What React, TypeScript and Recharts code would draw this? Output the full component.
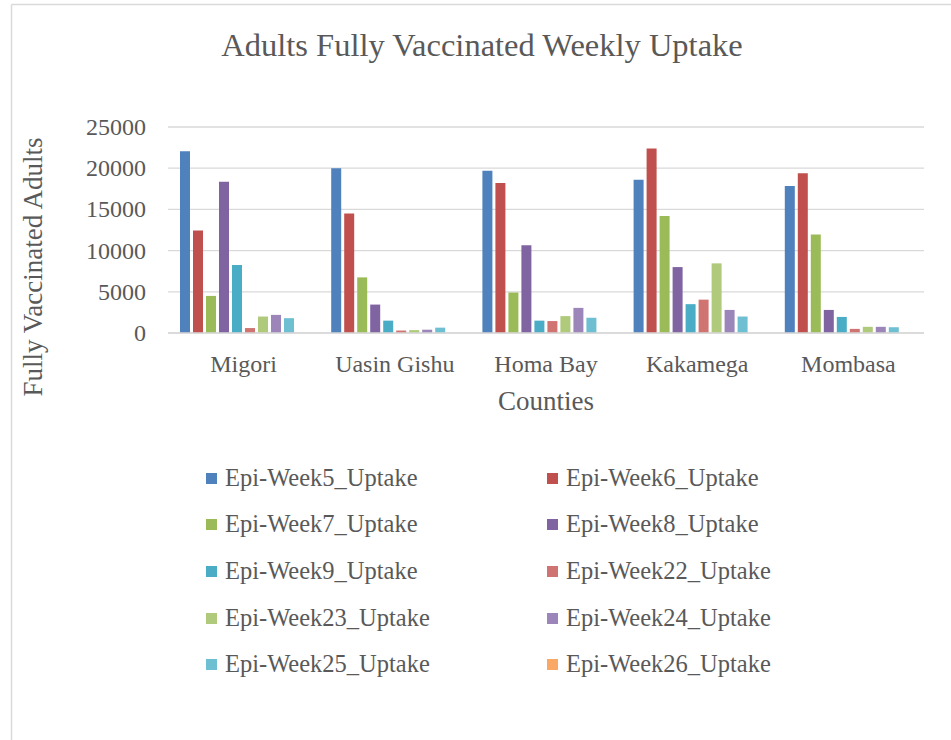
import React from 'react';
import { BarChart, Bar, XAxis, YAxis, CartesianGrid, Legend } from 'recharts';

const CATEGORIES = ['Migori', 'Uasin Gishu', 'Homa Bay', 'Kakamega', 'Mombasa'];
const SERIES_NAMES = [
  'Epi-Week5_Uptake', 'Epi-Week6_Uptake', 'Epi-Week7_Uptake', 'Epi-Week8_Uptake', 'Epi-Week9_Uptake',
  'Epi-Week22_Uptake', 'Epi-Week23_Uptake', 'Epi-Week24_Uptake', 'Epi-Week25_Uptake', 'Epi-Week26_Uptake',
];
const WEEK5 = [22050, 20000, 19700, 18600, 17850];
const WEEK6 = [12450, 14500, 18200, 22400, 19400];
const WEEK7 = [4500, 6750, 4900, 14200, 11950];
const WEEK8 = [18350, 3450, 10650, 8000, 2800];
const WEEK9 = [8250, 1500, 1500, 3500, 1950];
const WEEK22 = [600, 300, 1450, 4050, 500];
const WEEK23 = [2000, 350, 2050, 8450, 750];
const WEEK24 = [2200, 400, 3050, 2800, 750];
const WEEK25 = [1800, 650, 1850, 2000, 700];
const WEEK26 = [0, 0, 0, 0, 0];
const SERIES_VALUES = [WEEK5, WEEK6, WEEK7, WEEK8, WEEK9, WEEK22, WEEK23, WEEK24, WEEK25, WEEK26];
const COLORS = ['#4F81BD', '#C0504D', '#9BBB59', '#8064A2', '#4BACC6', '#D07472', '#AFCA7B', '#9C86B9', '#6FBFD3', '#F9A965'];
const Y_TICKS = [0, 5000, 10000, 15000, 20000, 25000];

const TITLE = 'Adults Fully Vaccinated Weekly Uptake';
const X_TITLE = 'Counties';
const Y_TITLE = 'Fully Vaccinated Adults';

const FONT = '"Liberation Serif", "Times New Roman", serif';
const TEXT = '#595959';

const data = CATEGORIES.map((county, i) => {
  const row: Record<string, any> = { county };
  SERIES_NAMES.forEach((name, s) => {
    row[name] = SERIES_VALUES[s][i];
  });
  return row;
});

const XTick = (props: any) => {
  const { x, y, payload } = props;
  return (
    <text x={x} y={y + 39} textAnchor="middle" fill={TEXT} fontFamily={FONT} fontSize={24}>
      {payload.value}
    </text>
  );
};

const YTick = (props: any) => {
  const { x, y, payload } = props;
  return (
    <text x={x - 22} y={y + 8} textAnchor="end" fill={TEXT} fontFamily={FONT} fontSize={24}>
      {payload.value}
    </text>
  );
};

const LegendContent = (props: any) => {
  const payload = [...(props.payload || [])].sort(
    (a: any, b: any) => SERIES_NAMES.indexOf(a.value) - SERIES_NAMES.indexOf(b.value)
  );
  const colX = [206, 547];
  const rowY = [478, 524, 571, 618, 664];
  return (
    <div style={{ position: 'relative', width: 951, height: 740 }}>
      {payload.map((entry: any, i: number) => {
        const col = i % 2;
        const row = Math.floor(i / 2);
        return (
          <div
            key={entry.value}
            style={{
              position: 'absolute',
              left: colX[col],
              top: rowY[row] - 12,
              height: 24,
              display: 'flex',
              alignItems: 'center',
              whiteSpace: 'nowrap',
            }}
          >
            <span style={{ display: 'inline-block', width: 11, height: 11, background: entry.color, marginRight: 8 }} />
            <span style={{ fontFamily: FONT, fontSize: 24.5, lineHeight: '24px', color: TEXT }}>{entry.value}</span>
          </div>
        );
      })}
    </div>
  );
};

export default function App() {
  return (
    <div style={{ position: 'absolute', left: 0, top: 0, width: 951, height: 740, background: '#fff' }}>
      <BarChart
        width={951}
        height={740}
        data={data}
        margin={{ top: 127, right: 27, bottom: 367, left: 0 }}
        barCategoryGap={12}
        barGap={3}
      >
        <CartesianGrid vertical={false} stroke="#D9D9D9" strokeWidth={1.3} />
        <XAxis
          dataKey="county"
          height={40}
          tickSize={0}
          tickMargin={0}
          tickLine={false}
          axisLine={{ stroke: '#D9D9D9', strokeWidth: 1.3 }}
          tick={<XTick />}
          interval={0}
        />
        <YAxis
          width={168}
          domain={[0, 25000]}
          ticks={Y_TICKS}
          interval={0}
          tickSize={0}
          tickMargin={0}
          tickLine={false}
          axisLine={false}
          tick={<YTick />}
        />
        <Legend
          layout="horizontal"
          verticalAlign="middle"
          align="center"
          itemSorter={null as any}
          content={<LegendContent />}
          wrapperStyle={{ position: 'absolute', left: 0, top: 0, width: 951, height: 740, pointerEvents: 'none' }}
        />
        {SERIES_NAMES.map((name, s) => (
          <Bar key={name} dataKey={name} name={name} fill={COLORS[s]} isAnimationActive={false} />
        ))}
      </BarChart>
      <svg
        width={951}
        height={740}
        style={{ position: 'absolute', left: 0, top: 0, pointerEvents: 'none' }}
      >
        <line x1={11.5} y1={4.5} x2={951} y2={4.5} stroke="#D9D9D9" strokeWidth={1.5} />
        <line x1={11.5} y1={4.5} x2={11.5} y2={740} stroke="#D9D9D9" strokeWidth={1.5} />
        <text x={482} y={56} textAnchor="middle" fill={TEXT} fontFamily={FONT} fontSize={32.5}>
          {TITLE}
        </text>
        <text x={546} y={410} textAnchor="middle" fill={TEXT} fontFamily={FONT} fontSize={27}>
          {X_TITLE}
        </text>
        <text
          x={42}
          y={267}
          textAnchor="middle"
          fill={TEXT}
          fontFamily={FONT}
          fontSize={27}
          transform="rotate(-90 42 267)"
        >
          {Y_TITLE}
        </text>
      </svg>
    </div>
  );
}
